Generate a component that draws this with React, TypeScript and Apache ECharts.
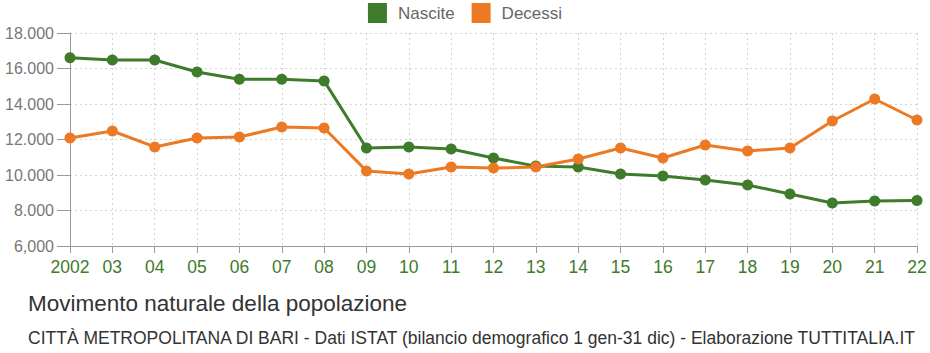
import React, { useEffect, useRef } from "react";
import * as echarts from "echarts";

const years = ["2002", "03", "04", "05", "06", "07", "08", "09", "10", "11", "12", "13", "14", "15", "16", "17", "18", "19", "20", "21", "22"];
const nascite = [16600, 16480, 16480, 15800, 15400, 15400, 15300, 11520, 11580, 11460, 10960, 10500, 10450, 10060, 9940, 9720, 9440, 8930, 8420, 8530, 8560];
const decessi = [12080, 12480, 11580, 12080, 12140, 12700, 12650, 10230, 10060, 10450, 10390, 10450, 10900, 11520, 10960, 11690, 11350, 11520, 13040, 14280, 13100];
const yTicks = { min: 6000, max: 18000, interval: 2000 };

const GREEN = "#3e7b2a";
const ORANGE = "#ec7a24";

export default function App() {
  const ref = useRef<HTMLDivElement>(null);
  useEffect(() => {
    if (!ref.current) return;
    const chart = echarts.init(ref.current, null, { renderer: "svg" });
    const font = "Liberation Sans, Arial, sans-serif";
    chart.setOption({
      animation: false,
      textStyle: { fontFamily: font },
      legend: {
        top: -2,
        left: "center",
        itemWidth: 19,
        itemHeight: 20,
        itemGap: 17,
        icon: "rect",
        textStyle: { fontSize: 17, color: "#666", fontFamily: font, padding: [4, 0, 0, 6] },
        data: ["Nascite", "Decessi"],
      },
      title: [
        {
          text: "Movimento naturale della popolazione",
          left: 28,
          top: 292,
          padding: 0,
          textStyle: { fontSize: 22.5, fontWeight: "normal", color: "#333", fontFamily: font },
        },
        {
          text: "CITTÀ METROPOLITANA DI BARI - Dati ISTAT (bilancio demografico 1 gen-31 dic) - Elaborazione TUTTITALIA.IT",
          left: 28,
          top: 329,
          padding: 0,
          textStyle: { fontSize: 17.5, fontWeight: "normal", color: "#333", fontFamily: font },
        },
      ],
      grid: { left: 70, right: 13, top: 33, bottom: 107, containLabel: false },
      xAxis: {
        type: "category",
        boundaryGap: false,
        data: years,
        axisLine: { lineStyle: { color: "#999" } },
        axisTick: { show: true, length: 7, lineStyle: { color: "#999" } },
        axisLabel: { color: GREEN, fontSize: 17.5, margin: 12, interval: 0, fontFamily: font },
        splitLine: { show: true, lineStyle: { color: "#d4d4d4", type: [2, 3] } },
      },
      yAxis: {
        type: "value",
        min: yTicks.min,
        max: yTicks.max,
        interval: yTicks.interval,
        axisLine: { show: true, lineStyle: { color: "#999" } },
        axisTick: { show: true, length: 13, lineStyle: { color: "#999" } },
        axisLabel: {
          color: "#777",
          fontSize: 16,
          margin: 16,
          fontFamily: font,
          formatter: (v: number) => (v === 6000 ? "6,000" : (v / 1000).toFixed(3)),
        },
        splitLine: { show: true, lineStyle: { color: "#d4d4d4", type: [2, 3] } },
      },
      series: [
        {
          name: "Nascite",
          type: "line",
          data: nascite,
          symbol: "circle",
          symbolSize: 11,
          itemStyle: { color: GREEN },
          lineStyle: { color: GREEN, width: 3 },
        },
        {
          name: "Decessi",
          type: "line",
          data: decessi,
          symbol: "circle",
          symbolSize: 11,
          itemStyle: { color: ORANGE },
          lineStyle: { color: ORANGE, width: 3 },
        },
      ],
    });
    return () => chart.dispose();
  }, []);
  return <div ref={ref} style={{ width: 930, height: 353, position: "absolute", left: 0, top: 0 }} />;
}
